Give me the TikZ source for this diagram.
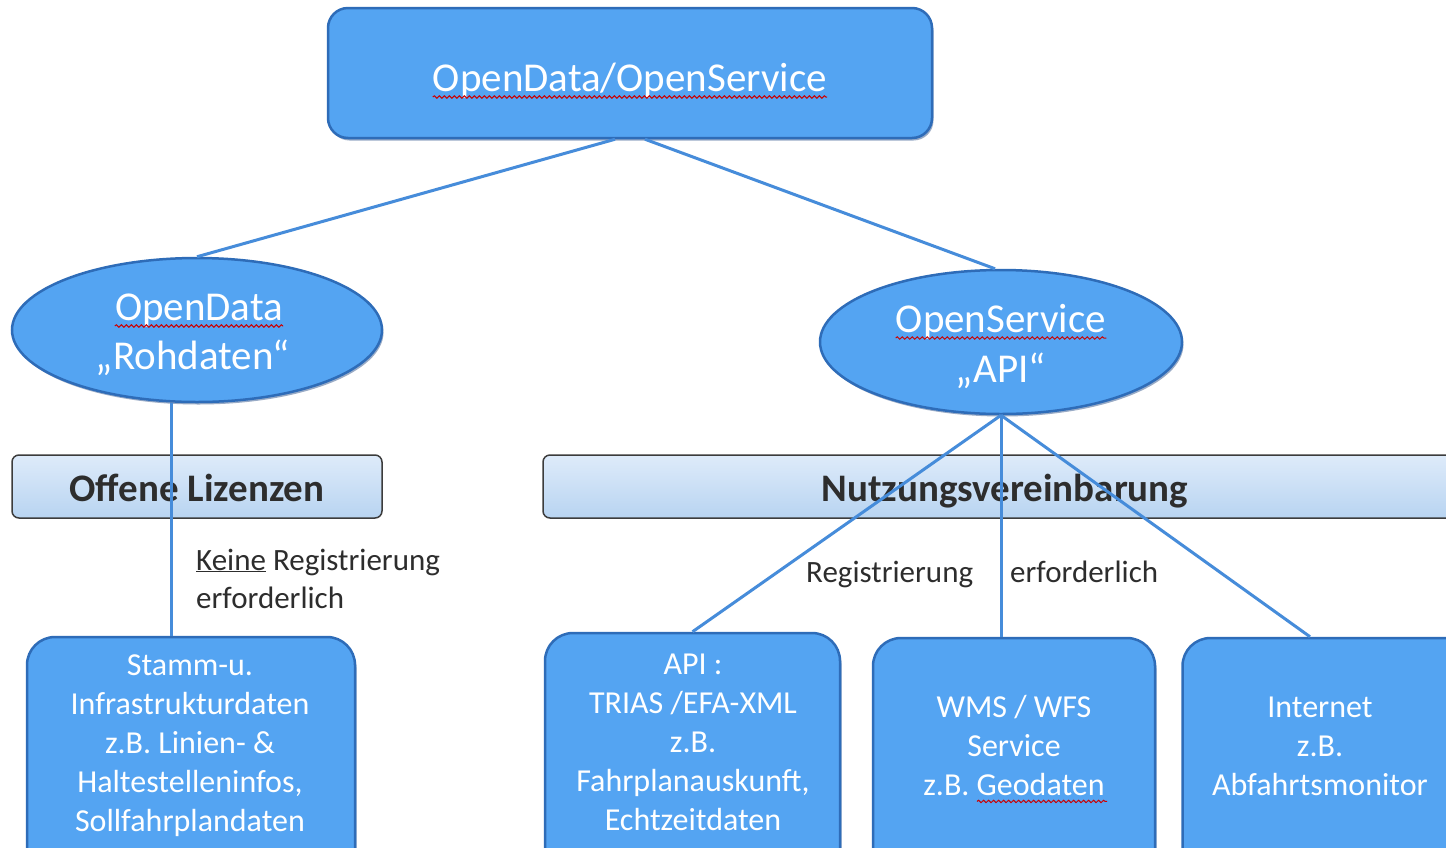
\documentclass[tikz,border=0pt]{standalone}
\usepackage{fontspec}
\setmainfont{Carlito}
\usetikzlibrary{shapes.geometric,decorations.pathmorphing,shadows}
\definecolor{boxblue}{RGB}{84,164,242}
\definecolor{boxedge}{RGB}{46,108,184}
\definecolor{boxshadow}{RGB}{30,70,130}
\definecolor{linkblue}{RGB}{70,140,218}
\definecolor{bandtop}{RGB}{222,235,250}
\definecolor{bandbot}{RGB}{184,212,241}
\definecolor{bandedge}{RGB}{60,60,60}
\definecolor{darktext}{RGB}{45,45,45}
\begin{document}
\begin{tikzpicture}[x=1pt,y=-1pt,
 bluebox/.style={draw=boxedge, line width=2.5pt, fill=boxblue, rounded corners=28pt, inner sep=0pt,
   drop shadow={shadow xshift=1.5pt, shadow yshift=-2.5pt, fill=boxshadow, opacity=0.45}},
 topbox/.style={bluebox, rounded corners=20pt},
 blueell/.style={ellipse, draw=boxedge, line width=2.5pt, fill=boxblue, inner sep=0pt,
   drop shadow={shadow xshift=1.5pt, shadow yshift=-2.5pt, fill=boxshadow, opacity=0.45}},
 band/.style={draw=bandedge, line width=1.5pt, top color=bandtop, bottom color=bandbot, rounded corners=7pt, inner sep=0pt},
 bigtext/.style={text=white, font=\fontsize{41}{48}\selectfont, inner sep=0pt, anchor=base},
 smalltext/.style={text=white, font=\fontsize{32}{39}\selectfont, align=center, inner sep=0pt},
 bandtext/.style={text=darktext, font=\fontsize{39}{46}\selectfont\bfseries, inner sep=0pt, anchor=base},
 lbl/.style={text=darktext, font=\fontsize{31}{38}\selectfont, inner sep=0pt, anchor=base west},
 link/.style={draw=linkblue, line width=3pt},
 spell/.style={draw=red!80!black, line width=1pt, decorate, decoration={snake, segment length=5pt, amplitude=1.2pt}}
]
\clip (0,0) rectangle (1446,847);
\fill[white] (0,0) rectangle (1446,847);

% bands
\node[band, minimum width=370pt, minimum height=63pt] (bandL) at (197,486.5) {};
\node[band, minimum width=930pt, minimum height=63pt] (bandR) at (1008,486.5) {};
\node[bandtext] (bandLT) at (197,501) {Offene Lizenzen};
\node[bandtext] (bandRT) at (1005,501) {Nutzungsvereinbarung};

% top box
\node[topbox, minimum width=604pt, minimum height=130pt] (top) at (630,73) {};
\node[bigtext] (topT) at (630,91) {OpenData/OpenService};

% ellipses
\node[blueell, minimum width=370pt, minimum height=144pt] (ellL) at (197,330) {};
\node[bigtext] (ellL1) at (199,320) {OpenData};
\node[bigtext] (ellL2) at (193,369) {„Rohdaten“};
\node[blueell, minimum width=362pt, minimum height=144pt] (ellR) at (1001,342) {};
\node[bigtext] (ellR1) at (1001,332) {OpenService};
\node[bigtext] (ellR2) at (1001,382) {„API“};

% bottom boxes
\node[bluebox, minimum width=328pt, minimum height=250pt] (stamm) at (191,762) {};
\node[bluebox, minimum width=295pt, minimum height=250pt] (api) at (692.5,758) {};
\node[bluebox, minimum width=282pt, minimum height=250pt] (wms) at (1014,763) {};
\node[bluebox, minimum width=297pt, minimum height=250pt] (inet) at (1331,763) {};
\node[smalltext] (stammT) at (190,746) {Stamm-u.\\Infrastrukturdaten\\z.B. Linien- \&\\Haltestelleninfos,\\Sollfahrplandaten};
\node[smalltext] (apiT) at (693,742) {API :\\TRIAS /EFA-XML\\z.B.\\Fahrplanauskunft,\\Echtzeitdaten};
\node[smalltext] (wmsT) at (1014,746) {WMS / WFS\\Service\\z.B. Geodaten};
\node[smalltext] (inetT) at (1320,746) {Internet\\z.B.\\Abfahrtsmonitor};

% connectors
\draw[link] ([xshift=-15pt]top.south) -- (ellL.north);
\draw[link] ([xshift=15pt]top.south) -- ([xshift=-6pt]ellR.north);
\draw[link] ([xshift=-26pt]ellL.south) -- ([xshift=-26pt]ellL.south |- stamm.north);
\draw[link] (ellR.south) -- (api.north);
\draw[link] (ellR.south) -- (ellR.south |- wms.north);
\draw[link] (ellR.south) -- ([xshift=-21pt]inet.north);

% labels
\node[lbl] (lblKeine) at (196,570) {\underline{Keine} Registrierung};
\node[lbl] (lblErf1) at (196,608) {erforderlich};
\node[lbl] (lblReg) at (806,582) {Registrierung};
\node[lbl] (lblErf2) at (1010,582) {erforderlich};

% spell-check squiggles
\draw[spell] ([yshift=-6pt]topT.base west) -- ([yshift=-6pt]topT.base east);
\draw[spell] ([yshift=-6pt]ellL1.base west) -- ([yshift=-6pt]ellL1.base east);
\draw[spell] ([yshift=-6pt]ellR1.base west) -- ([yshift=-6pt]ellR1.base east);
\draw[spell] ([xshift=-37pt,yshift=-5pt]wmsT.south) -- ([xshift=93pt,yshift=-5pt]wmsT.south);
\end{tikzpicture}
\end{document}
